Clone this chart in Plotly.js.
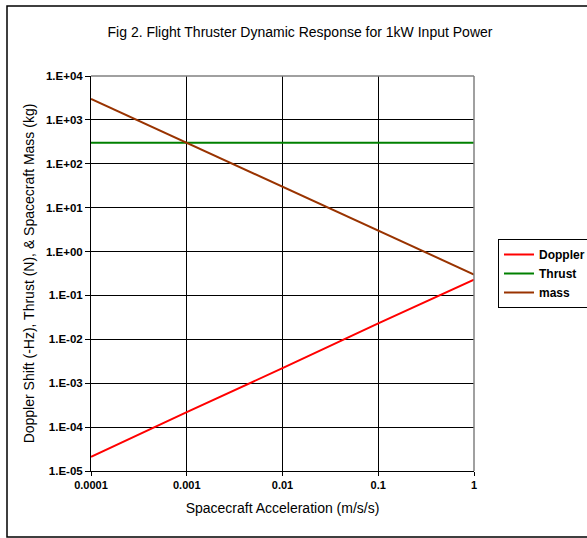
<!DOCTYPE html>
<html>
<head>
<meta charset="utf-8">
<script src="https://cdn.plot.ly/plotly-3.0.1.min.js"></script>
<style>html,body{margin:0;padding:0;background:#fff;}#chart{width:587px;height:538px;}</style>
</head>
<body>
<div id="chart"></div>
<script>
// Data
var acceleration = [0.0001, 0.001, 0.01, 0.1, 1];
var doppler = [2.1e-5, 2.2e-4, 2.2e-3, 2.3e-2, 0.23];
var thrust = [300, 300, 300, 300, 300];
var mass = [3000, 300, 30, 3, 0.3];
var xTickVals = [0.0001, 0.001, 0.01, 0.1, 1];
var xTickText = ["0.0001", "0.001", "0.01", "0.1", "1"];
var yTickVals = [1e-5, 1e-4, 1e-3, 1e-2, 1e-1, 1, 10, 100, 1000, 10000];
var yTickText = ["1.E-05", "1.E-04", "1.E-03", "1.E-02", "1.E-01", "1.E+00", "1.E+01", "1.E+02", "1.E+03", "1.E+04"];
var seriesNames = ["Doppler", "Thrust", "mass"];

var FONT = "Liberation Sans, Arial, sans-serif";
var traces = [
  {x: acceleration, y: doppler, name: seriesNames[0], mode: "lines", line: {color: "#ff0000", width: 2}},
  {x: acceleration, y: thrust, name: seriesNames[1], mode: "lines", line: {color: "#008000", width: 2}},
  {x: acceleration, y: mass, name: seriesNames[2], mode: "lines", line: {color: "#993300", width: 2}}
];

var layout = {
  width: 587, height: 538,
  margin: {l: 91, r: 113, t: 76, b: 67, autoexpand: false},
  paper_bgcolor: "#ffffff", plot_bgcolor: "#ffffff",
  font: {family: FONT, color: "#000"},
  title: {text: "Fig 2. Flight Thruster Dynamic Response for 1kW Input Power",
          font: {family: FONT, size: 14, color: "#000"},
          xref: "container", x: 300 / 587, xanchor: "center", yref: "container", y: 1 - 32/538, yanchor: "middle"},
  xaxis: {
    type: "log", range: [-4, 0], tickvals: xTickVals, ticktext: xTickText,
    automargin: false,
    showgrid: true, gridcolor: "#000", gridwidth: 1,
    showline: true, linecolor: "#000", linewidth: 1,
    ticks: "outside", ticklen: 4, tickcolor: "#000",
    tickfont: {family: FONT, size: 11, color: "#000", weight: "bold"},
    zeroline: false,
    title: {text: "Spacecraft Acceleration (m/s/s)", font: {family: FONT, size: 14, color: "#000"}, standoff: 12}
  },
  yaxis: {
    type: "log", range: [-5, 4], tickvals: yTickVals, ticktext: yTickText,
    automargin: false,
    showgrid: true, gridcolor: "#000", gridwidth: 1,
    showline: true, linecolor: "#000", linewidth: 1,
    ticks: "outside", ticklen: 5, tickcolor: "#000",
    tickfont: {family: FONT, size: 11.5, color: "#000", weight: "bold"},
    zeroline: false,
    title: {text: "Doppler Shift (-Hz), Thrust (N), & Spacecraft Mass (kg)", font: {family: FONT, size: 14, color: "#000"}, standoff: 8}
  },
  showlegend: true,
  legend: {
    xref: "container", yref: "container",
    x: 498 / 587, y: 1 - 239 / 538, xanchor: "left", yanchor: "top",
    bordercolor: "#000", borderwidth: 1, bgcolor: "#fff",
    font: {family: FONT, size: 12, color: "#000", weight: "bold"},
    itemwidth: 30, tracegroupgap: 0
  },
  shapes: [
    {type: "line", xref: "paper", yref: "paper", x0: 0, x1: 1, y0: 1, y1: 1, line: {color: "#808080", width: 1.5}},
    {type: "line", xref: "paper", yref: "paper", x0: 1, x1: 1, y0: 0, y1: 1, line: {color: "#808080", width: 1.5}},
    {type: "rect", xref: "paper", yref: "paper", x0: (7 - 91) / 383, x1: (620 - 91) / 383, y0: (471 - 537) / 395, y1: (471 - 6) / 395,
     line: {color: "#000", width: 1.5}, layer: "below"}
  ]
};

Plotly.newPlot("chart", traces, layout, {displayModeBar: false, staticPlot: true});
</script>
</body>
</html>
